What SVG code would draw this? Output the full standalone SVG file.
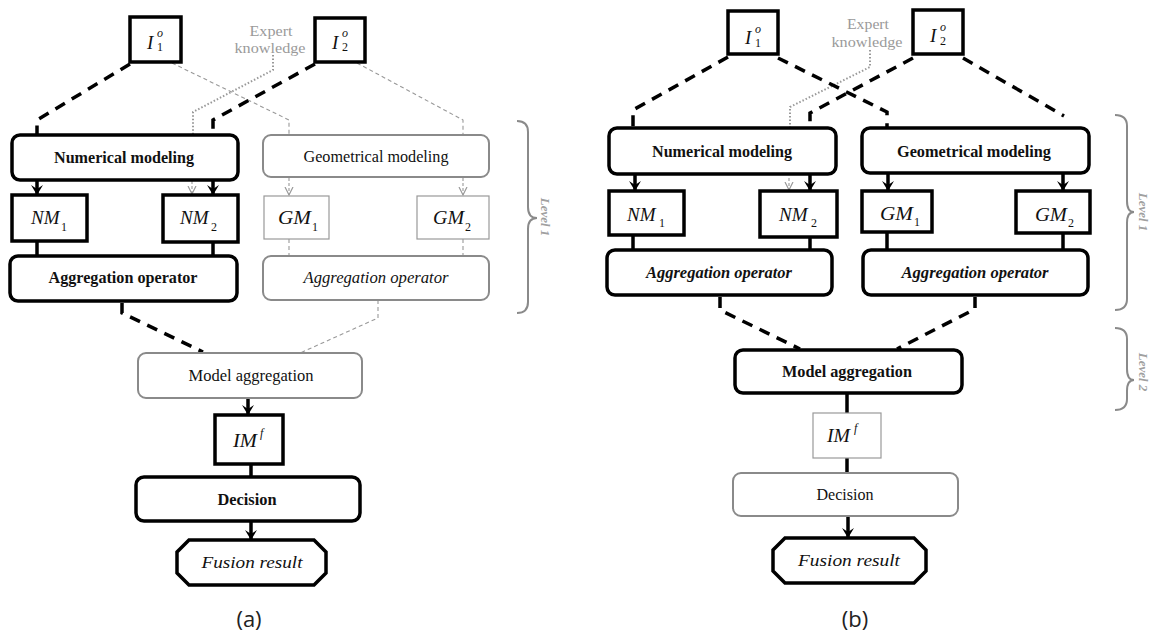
<svg xmlns="http://www.w3.org/2000/svg" width="1154" height="637" viewBox="0 0 1154 637">
<style>
.bk{fill:#fff;stroke:#000;stroke-width:3.5}
.gy{fill:#fff;stroke:#8a8a8a;stroke-width:2}
.gt{fill:#fff;stroke:#999;stroke-width:1.2}
.t{font-family:"Liberation Serif",serif;font-size:16px;fill:#111;text-anchor:middle}
.b{font-weight:bold}
.i{font-style:italic}
.m{font-family:"Liberation Serif",serif;font-style:italic;font-size:19px;fill:#111}
.s{font-size:12px;font-style:normal}
.si{font-size:12px;font-style:italic}
.ek{font-family:"Liberation Serif",serif;font-size:15px;fill:#9a9a9a;text-anchor:middle}
.lv{font-family:"Liberation Serif",serif;font-size:13px;font-style:italic;font-weight:bold;fill:#a0a0a0;text-anchor:middle}
.cap{font-family:"Open Sans","Noto Sans",sans-serif;font-size:22px;fill:#222;text-anchor:middle}
.bd{fill:none;stroke:#000;stroke-width:3.5;stroke-dasharray:11 8}
.gd{fill:none;stroke:#999;stroke-width:1.1;stroke-dasharray:4 3}
.dt{fill:none;stroke:#999;stroke-width:2;stroke-dasharray:1.5 2}
.sl{fill:none;stroke:#000;stroke-width:3.5}
.ba{fill:none;stroke:#000;stroke-width:3.5;marker-end:url(#ah)}
.ga{fill:none;stroke:#999;stroke-width:1.1;stroke-dasharray:3 2;marker-end:url(#gh)}
.br{fill:none;stroke:#8a8a8a;stroke-width:2}
</style>
<defs>
<marker id="ah" markerUnits="userSpaceOnUse" markerWidth="14" markerHeight="14" refX="10" refY="6" orient="auto" viewBox="0 0 14 12">
<path d="M0,0 L10,6 L0,12 L4,6 Z" fill="#000"/>
</marker>
<marker id="gh" markerUnits="userSpaceOnUse" markerWidth="10" markerHeight="10" refX="8" refY="4" orient="auto" viewBox="0 0 10 8">
<path d="M0,0 L8,4 L0,8" fill="none" stroke="#999" stroke-width="1.2"/>
</marker>
</defs>
<rect width="1154" height="637" fill="#fff"/>

<g id="connectors">
<path class="gd" d="M172,63 L289,120 L289,135"/>
<path class="gd" d="M357,63 L463,120 L463,135"/>
<path class="dt" d="M273,55 L273,70 L193,112 L193,135"/>
<path class="bd" d="M130,64 L37,120 L37,134"/>
<path class="bd" d="M315,64 L213,120 L213,134"/>
<path class="ba" d="M37,181 L37,195"/>
<path class="ba" d="M213,181 L213,195"/>
<path class="ga" d="M192,181 L192,194"/>
<path class="ga" d="M289,178 L289,195"/>
<path class="ga" d="M463,178 L463,195"/>
<path class="sl" d="M37,241 L37,256"/>
<path class="sl" d="M213,242 L213,256"/>
<path class="gd" d="M289,239 L289,256"/>
<path class="gd" d="M463,239 L463,256"/>
<path class="bd" d="M122,303 L122,313 L203,352"/>
<path class="gd" d="M378,300 L378,318 L300,353"/>
<path class="ba" d="M248,399 L248,415"/>
<path class="sl" d="M251,464 L251,477"/>
<path class="ba" d="M251,522 L251,540"/>
<path class="dt" d="M870,50 L870,67 L790,107 L790,128"/>
<path class="bd" d="M728,57 L633,110 L633,128"/>
<path class="bd" d="M778,58 L887,112 L887,128"/>
<path class="bd" d="M913,58 L810,113 L810,128"/>
<path class="bd" d="M963,58 L1064,116"/>
<path class="ba" d="M635,175 L635,191"/>
<path class="ba" d="M810,175 L810,191"/>
<path class="ga" d="M789,178 L789,190"/>
<path class="ba" d="M888,174 L888,191"/>
<path class="ba" d="M1063,174 L1063,191"/>
<path class="sl" d="M633,235 L633,250"/>
<path class="sl" d="M810,237 L810,250"/>
<path class="sl" d="M887,232 L887,250"/>
<path class="sl" d="M1063,233 L1063,250"/>
<path class="bd" d="M720,297 L720,310 L800,349"/>
<path class="bd" d="M975,297 L975,309 L897,349"/>
<path class="sl" d="M847,393 L847,413"/>
<path class="sl" d="M847,458 L847,473"/>
<path class="ba" d="M848,517 L848,538"/>
</g>

<g id="a-expert"><text class="ek" x="271" y="36" textLength="43" lengthAdjust="spacingAndGlyphs">Expert</text><text class="ek" x="270" y="53" textLength="71" lengthAdjust="spacingAndGlyphs">knowledge</text></g>
<g id="a-I1"><rect class="bk" x="130" y="17" width="51" height="45"/><text class="m" x="147" y="49">I</text><text class="m si" x="157" y="37">o</text><text class="m s" x="157" y="51">1</text></g>
<g id="a-I2"><rect class="bk" x="315" y="18" width="50" height="44"/><text class="m" x="332" y="49">I</text><text class="m si" x="342" y="37">o</text><text class="m s" x="342" y="51">2</text></g>
<g id="a-num"><rect class="bk" x="12" y="135" width="226" height="45" rx="8"/><text class="t b" x="124" y="163" textLength="140" lengthAdjust="spacingAndGlyphs">Numerical modeling</text></g>
<g id="a-geo"><rect class="gy" x="263" y="135" width="226" height="42" rx="8"/><text class="t" x="376" y="162" textLength="145" lengthAdjust="spacingAndGlyphs">Geometrical modeling</text></g>
<g id="a-NM1"><rect class="bk" x="12" y="195" width="75" height="46"/><text class="m" x="31" y="224">NM</text><text class="m s" x="61" y="231">1</text></g>
<g id="a-NM2"><rect class="bk" x="163" y="195" width="75" height="47"/><text class="m" x="180" y="224">NM</text><text class="m s" x="211" y="231">2</text></g>
<g id="a-GM1"><rect class="gt" x="264" y="196" width="65" height="43"/><text class="m" x="278" y="224" textLength="33" lengthAdjust="spacingAndGlyphs">GM</text><text class="m s" x="312" y="231">1</text></g>
<g id="a-GM2"><rect class="gt" x="417" y="196" width="72" height="43"/><text class="m" x="433" y="224" textLength="31" lengthAdjust="spacingAndGlyphs">GM</text><text class="m s" x="465" y="231">2</text></g>
<g id="a-agg1"><rect class="bk" x="10" y="256" width="227" height="45" rx="8"/><text class="t b" x="123" y="283" textLength="149" lengthAdjust="spacingAndGlyphs">Aggregation operator</text></g>
<g id="a-agg2"><rect class="gy" x="263" y="256" width="226" height="44" rx="8"/><text class="t i" x="376" y="283" textLength="145" lengthAdjust="spacingAndGlyphs">Aggregation operator</text></g>
<g id="a-model"><rect class="gy" x="138" y="353" width="224" height="45" rx="8"/><text class="t" x="251" y="381" textLength="125" lengthAdjust="spacingAndGlyphs">Model aggregation</text></g>
<g id="a-IM"><rect class="bk" x="215" y="415" width="68" height="49"/><text class="m" x="233" y="447" textLength="24" lengthAdjust="spacingAndGlyphs">IM</text><text class="m si" x="260" y="437">f</text></g>
<g id="a-dec"><rect class="bk" x="136" y="477" width="224" height="44" rx="8"/><text class="t b" x="247" y="505" textLength="59" lengthAdjust="spacingAndGlyphs">Decision</text></g>
<g id="a-fus"><polygon class="bk" points="189,540 314,540 326,552 326,573 314,585 189,585 177,573 177,552"/><text class="t i" x="252" y="568" textLength="101" lengthAdjust="spacingAndGlyphs">Fusion result</text></g>
<g id="a-level"><path class="br" d="M517,121 Q528,121 528,132 L528,207 Q528,218 537,218 Q528,218 528,229 L528,302 Q528,313 517,313"/><text class="lv" transform="translate(541,217) rotate(90)">Level 1</text></g>
<text class="cap" x="249" y="627">(a)</text>

<g id="b-expert"><text class="ek" x="868" y="29" textLength="42" lengthAdjust="spacingAndGlyphs">Expert</text><text class="ek" x="867" y="47" textLength="71" lengthAdjust="spacingAndGlyphs">knowledge</text></g>
<g id="b-I1"><rect class="bk" x="728" y="11" width="50" height="43"/><text class="m" x="745" y="44">I</text><text class="m si" x="755" y="33">o</text><text class="m s" x="755" y="47">1</text></g>
<g id="b-I2"><rect class="bk" x="913" y="10" width="50" height="44"/><text class="m" x="930" y="42">I</text><text class="m si" x="940" y="31">o</text><text class="m s" x="940" y="45">2</text></g>
<g id="b-num"><rect class="bk" x="609" y="128" width="227" height="46" rx="8"/><text class="t b" x="722" y="157" textLength="140" lengthAdjust="spacingAndGlyphs">Numerical modeling</text></g>
<g id="b-geo"><rect class="bk" x="862" y="128" width="227" height="45" rx="8"/><text class="t b" x="974" y="157" textLength="154" lengthAdjust="spacingAndGlyphs">Geometrical modeling</text></g>
<g id="b-NM1"><rect class="bk" x="609" y="191" width="75" height="44"/><text class="m" x="627" y="221">NM</text><text class="m s" x="659" y="227">1</text></g>
<g id="b-NM2"><rect class="bk" x="760" y="191" width="77" height="46"/><text class="m" x="779" y="221">NM</text><text class="m s" x="811" y="227">2</text></g>
<g id="b-GM1"><rect class="bk" x="862" y="191" width="70" height="41"/><text class="m" x="880" y="220" textLength="33" lengthAdjust="spacingAndGlyphs">GM</text><text class="m s" x="914" y="226">1</text></g>
<g id="b-GM2"><rect class="bk" x="1016" y="191" width="74" height="42"/><text class="m" x="1035" y="221" textLength="32" lengthAdjust="spacingAndGlyphs">GM</text><text class="m s" x="1068" y="227">2</text></g>
<g id="b-agg1"><rect class="bk" x="607" y="250" width="225" height="45" rx="8"/><text class="t b i" x="719" y="278" textLength="146" lengthAdjust="spacingAndGlyphs">Aggregation operator</text></g>
<g id="b-agg2"><rect class="bk" x="863" y="250" width="225" height="45" rx="8"/><text class="t b i" x="975" y="278" textLength="147" lengthAdjust="spacingAndGlyphs">Aggregation operator</text></g>
<g id="b-model"><rect class="bk" x="735" y="350" width="227" height="43" rx="8"/><text class="t b" x="847" y="377" textLength="130" lengthAdjust="spacingAndGlyphs">Model aggregation</text></g>
<g id="b-IM"><rect class="gt" x="813" y="413" width="68" height="45"/><text class="m" x="827" y="442" textLength="23" lengthAdjust="spacingAndGlyphs">IM</text><text class="m si" x="854" y="432">f</text></g>
<g id="b-dec"><rect class="gy" x="733" y="473" width="225" height="43" rx="8"/><text class="t" x="845" y="500" textLength="57" lengthAdjust="spacingAndGlyphs">Decision</text></g>
<g id="b-fus"><polygon class="bk" points="785,538 914,538 926,550 926,571 914,583 785,583 773,571 773,550"/><text class="t i" x="849" y="566" textLength="102" lengthAdjust="spacingAndGlyphs">Fusion result</text></g>
<g id="b-level1"><path class="br" d="M1115,115 Q1127,115 1127,126 L1127,201 Q1127,212 1134,212 Q1127,212 1127,223 L1127,299 Q1127,310 1115,310"/><text class="lv" transform="translate(1139,212) rotate(90)">Level 1</text></g>
<g id="b-level2"><path class="br" d="M1115,328 Q1127,328 1127,339 L1127,369 Q1127,380 1134,380 Q1127,380 1127,391 L1127,399 Q1127,410 1115,410"/><text class="lv" transform="translate(1139,372) rotate(90)">Level 2</text></g>
<text class="cap" x="855" y="627">(b)</text>
</svg>
